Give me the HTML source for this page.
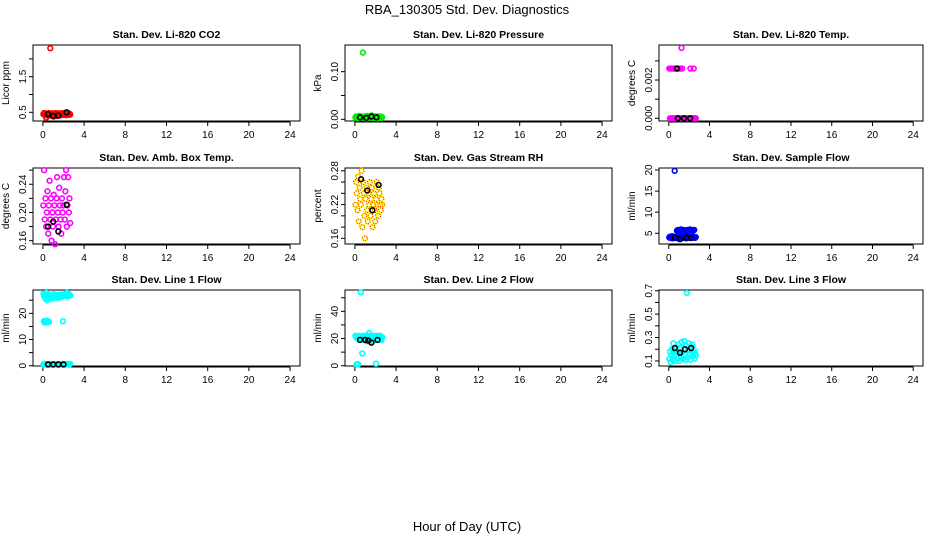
<!DOCTYPE html>
<html><head><meta charset="utf-8"><style>
body{margin:0;background:#fff}
svg text{font-family:"Liberation Sans",Arial,sans-serif;fill:#000}
</style></head><body>
<svg id="c" width="936" height="540" xmlns="http://www.w3.org/2000/svg">
<text x="467" y="14" font-size="13" text-anchor="middle">RBA_130305  Std. Dev. Diagnostics</text>
<text x="467" y="531" font-size="13" text-anchor="middle">Hour of Day (UTC)</text>
</svg>
<script>
const xTicks=[0,4,8,12,16,20,24];
const hours=[0.05,0.12,0.18,0.25,0.32,0.38,0.45,0.52,0.58,0.65,0.72,0.78,0.85,0.92,0.98,1.05,1.12,1.18,1.25,1.32,1.38,1.45,1.52,1.58,1.65,1.72,1.78,1.85,1.92,1.98,2.05,2.12,2.18,2.25,2.32,2.38,2.45,2.52,2.58,2.65];
const co2Vals=[0.45,0.48,0.42,0.47,0.35,0.44,0.46,0.40,0.48,0.43,2.30,0.45,0.41,0.47,0.44,0.38,0.46,0.42,0.48,0.40,0.45,0.43,0.47,0.41,0.44,0.46,0.42,0.48,0.45,0.43,0.47,0.44,0.46,0.42,0.48,0.45,0.47,0.43,0.46,0.44];
const co2MeanH=[0.5,1.0,1.5,2.3], co2MeanV=[0.45,0.40,0.41,0.50];
const presVals=[0.004,0.006,0.003,0.005,0.002,0.007,0.004,0.003,0.006,0.005,0.004,0.140,0.003,0.006,0.004,0.005,0.002,0.007,0.004,0.006,0.003,0.005,0.004,0.006,0.008,0.003,0.005,0.004,0.006,0.003,0.005,0.004,0.002,0.006,0.005,0.003,0.004,0.006,0.003,0.004];
const presMeanH=[0.5,1.1,1.6,2.1], presMeanV=[0.004,0.003,0.006,0.004];
const tempVals=[0.0026,0,0.0026,0,0.0026,0,0.0026,0,0.0026,0,0.0026,0,0.0026,0,0.0026,0,0.0026,0,0.00368,0.0026,0,0,0,0,0,0,0,0,0,0,0,0.0026,0,0,0,0,0.0026,0,0,0];
const tempMeanH=[0.8,0.9,1.5,2.1], tempMeanV=[0.0026,0,0,0];
const ambVals=[0.21,0.26,0.19,0.22,0.18,0.20,0.23,0.17,0.21,0.245,0.19,0.22,0.16,0.20,0.18,0.225,0.21,0.155,0.19,0.22,0.25,0.20,0.18,0.235,0.21,0.19,0.17,0.22,0.20,0.21,0.25,0.19,0.23,0.26,0.18,0.21,0.25,0.20,0.22,0.185];
const ambMeanH=[0.5,1.0,1.5,2.3], ambMeanV=[0.18,0.187,0.173,0.211];
const rhVals=[0.22,0.26,0.24,0.21,0.27,0.19,0.25,0.23,0.22,0.28,0.18,0.26,0.24,0.20,0.16,0.23,0.25,0.21,0.19,0.24,0.22,0.26,0.20,0.23,0.25,0.18,0.22,0.24,0.21,0.19,0.23,0.26,0.22,0.20,0.25,0.24,0.22,0.21,0.23,0.22];
const rhMeanH=[0.6,1.2,1.7,2.3], rhMeanV=[0.265,0.245,0.21,0.255];
const flowVals=[4.0,4.2,3.9,4.1,4.3,3.8,4.0,4.2,19.8,4.1,3.9,4.0,4.2,3.8,4.1,4.0,4.3,3.9,4.1,4.0,4.2,3.9,4.0,4.1,4.2,3.8,4.0,4.1,4.3,3.9,4.0,4.2,4.1,3.9,4.0,4.2,4.1,4.0,3.9,4.1];
const flowHours2=[0.8,0.9,1.0,1.1,1.2,1.3,1.4,1.5,1.6,1.7,1.8,1.9,2.0,2.1,2.2,2.3,2.4,2.5];
const flowVals2=[5.6,5.8,5.7,5.5,5.9,5.6,5.8,5.7,5.5,5.6,5.8,5.7,5.6,5.9,5.8,5.7,5.6,5.8];
const flowMeanH=[0.6,1.1,1.7,2.2], flowMeanV=[4.0,3.6,4.0,3.9];
const l1Vals=[27.5,26.5,27,25.5,27.8,26,25,26.8,27.2,25.8,26.5,27,26,25.7,26.8,27.3,26.2,26.6,25.9,27,26.4,26.8,27.1,26,26.5,27.2,26.3,26.8,27,26.6,27.3,26.9,27.5,26.7,27.8,27,26.5,27.4,27.1,26.8];
const l1Hours2=[0.1,0.15,0.2,0.3,0.35,0.45,0.5,0.6,1.95];
const l1Vals2=[17,16.5,17,16.8,17.2,16.6,17,16.8,17];
const l1Low=[0.5,0.6,0.5,0.7,0.5,0.6,0.5,0.6,0.5,0.7,0.5,0.6,0.5,0.6,0.5,0.7,0.5,0.6,0.5,0.6,0.5,0.7,0.5,0.6,0.5,0.6,0.5,0.7,0.5,0.6,0.5,0.6,0.5,0.7,0.5,0.6,0.5,0.6,0.5,0.7];
const l1MeanH=[0.5,1.0,1.5,2.0], l1MeanV=[0.5,0.5,0.5,0.5];
const l2Vals=[22,21,1,20,1,22,19,21,54,20,9,22,21,19,20,22,18,21,20,22,24,19,21,20,22,18,20,21,19,22,1.5,21,20,22,19,21,22,20,19,21];
const l2MeanH=[0.5,1.0,1.3,1.6,2.2], l2MeanV=[19,19,18.5,17,19];
const l3Vals=[0.12,0.18,0.09,0.15,0.2,0.11,0.25,0.14,0.19,0.1,0.22,0.16,0.12,0.24,0.18,0.1,0.21,0.14,0.26,0.17,0.12,0.2,0.27,0.15,0.11,0.23,0.68,0.13,0.19,0.25,0.16,0.11,0.22,0.18,0.24,0.14,0.2,0.12,0.17,0.15];
const l3MeanH=[0.6,1.1,1.6,2.2], l3MeanV=[0.21,0.17,0.2,0.21];

const svg=document.getElementById('c');
const NS='http://www.w3.org/2000/svg';
function mk(tag,attrs){const e=document.createElementNS(NS,tag);for(const k in attrs)e.setAttribute(k,attrs[k]);svg.appendChild(e);return e;}

const cols=[[33,300],[345,612],[659,923]];
const rows=[[45,121],[168,244],[290,366]];
const panels=[
 {t:'Stan. Dev. Li-820 CO2',yl:'Licor ppm',y0:0.256,y1:2.39,tk:[0.5,1,1.5,2],lb:[0.5,1.5],col:'#ff0000',sets:[[hours,co2Vals]],mh:co2MeanH,mv:co2MeanV,d:1},
 {t:'Stan. Dev. Li-820 Pressure',yl:'kPa',y0:-0.0036,y1:0.156,tk:[0,0.05,0.1],lb:[0,0.1],col:'#00ee00',sets:[[hours,presVals]],mh:presMeanH,mv:presMeanV,d:2},
 {t:'Stan. Dev. Li-820 Temp.',yl:'degrees C',y0:-0.00014,y1:0.00383,tk:[0,0.001,0.002,0.003],lb:[0,0.002],col:'#ff00ff',sets:[[hours,tempVals]],mh:tempMeanH,mv:tempMeanV,d:3},
 {t:'Stan. Dev. Amb. Box Temp.',yl:'degrees C',y0:0.1553,y1:0.263,tk:[0.16,0.18,0.2,0.22,0.24,0.26],lb:[0.16,0.2,0.24],col:'#ff00ff',sets:[[hours,ambVals]],mh:ambMeanH,mv:ambMeanV,d:2},
 {t:'Stan. Dev. Gas Stream RH',yl:'percent',y0:0.150,y1:0.285,tk:[0.16,0.18,0.2,0.22,0.24,0.26,0.28],lb:[0.16,0.22,0.28],col:'#ffff00',dot:true,sets:[[hours,rhVals]],mh:rhMeanH,mv:rhMeanV,d:2},
 {t:'Stan. Dev. Sample Flow',yl:'ml/min',y0:2.46,y1:20.47,tk:[5,10,15,20],lb:[5,10,15,20],col:'#0000ff',sets:[[hours,flowVals],[flowHours2,flowVals2]],mh:flowMeanH,mv:flowMeanV,d:0},
 {t:'Stan. Dev. Line 1 Flow',yl:'ml/min',y0:-0.1,y1:28.9,tk:[0,5,10,15,20,25],lb:[0,10,20],col:'#00ffff',sets:[[hours,l1Vals],[l1Hours2,l1Vals2],[hours,l1Low]],mh:l1MeanH,mv:l1MeanV,d:0},
 {t:'Stan. Dev. Line 2 Flow',yl:'ml/min',y0:-0.2,y1:55.7,tk:[0,10,20,30,40,50],lb:[0,20,40],col:'#00ffff',sets:[[hours,l2Vals]],mh:l2MeanH,mv:l2MeanV,d:0},
 {t:'Stan. Dev. Line 3 Flow',yl:'ml/min',y0:0.057,y1:0.706,tk:[0.1,0.2,0.3,0.4,0.5,0.6,0.7],lb:[0.1,0.3,0.5,0.7],col:'#00ffff',sets:[[hours,l3Vals]],mh:l3MeanH,mv:l3MeanV,d:1}
];
panels.forEach((p,i)=>{
 const [L,R]=cols[i%3],[T,B]=rows[Math.floor(i/3)];
 const xs=h=>L+(h+0.96)/25.92*(R-L);
 const ys=v=>B-(v-p.y0)/(p.y1-p.y0)*(B-T);
 const slug=p.t.toLowerCase().replace(/[^a-z0-9]+/g,'-').replace(/^-|-$/g,'');
 const box=mk('rect',{x:L,y:T,width:R-L,height:B-T,fill:'none',stroke:'#000','stroke-width':1});
 
 
 const tt=mk('text',{x:(L+R)/2,y:T-7,'font-size':10.5,'font-weight':'bold','text-anchor':'middle'});tt.textContent=p.t;
 
 
 const yl=mk('text',{x:0,y:0,'font-size':10,'text-anchor':'middle',transform:`translate(${L-24},${(T+B)/2}) rotate(-90)`});yl.textContent=p.yl;
 
 
 const xl0=xs(0),xl1=xs(24);
 mk('line',{x1:xl0,x2:xl1,y1:B+1,y2:B+1,stroke:'#000'});
 xTicks.forEach(v=>{const x=xs(v);mk('line',{x1:x,x2:x,y1:B+1,y2:B+5,stroke:'#000'});
  const t=mk('text',{x:x,y:B+17,'font-size':10,'text-anchor':'middle'});t.textContent=v;
  
  });
 mk('line',{x1:L,x2:L,y1:ys(p.tk[0]),y2:ys(p.tk[p.tk.length-1]),stroke:'#000'});
 p.tk.forEach(v=>{const y=ys(v);mk('line',{x1:L-4,x2:L,y1:y,y2:y,stroke:'#000'});});
 p.lb.forEach(v=>{const y=ys(v);const t=mk('text',{x:0,y:0,'font-size':10,'text-anchor':'middle',transform:`translate(${L-7},${y}) rotate(-90)`});
  t.textContent=v.toFixed(p.d);
  
  });
 p.sets.forEach(([hx,vy])=>{hx.forEach((h,j)=>{
  const c=mk('circle',{cx:xs(h),cy:ys(vy[j]),r:2.4,fill:'none',stroke:p.col,'stroke-width':1.6});
  
  
  if(p.dot){mk('circle',{cx:xs(h),cy:ys(vy[j]),r:2.4,fill:'none',stroke:'#ff0000','stroke-width':1,'stroke-dasharray':'1 1.5'});}
 });});
 p.mh.forEach((h,j)=>{const c=mk('circle',{cx:xs(h),cy:ys(p.mv[j]),r:2.4,fill:'none',stroke:'#000','stroke-width':1.6});
  
  });
});
</script>
</body></html>
